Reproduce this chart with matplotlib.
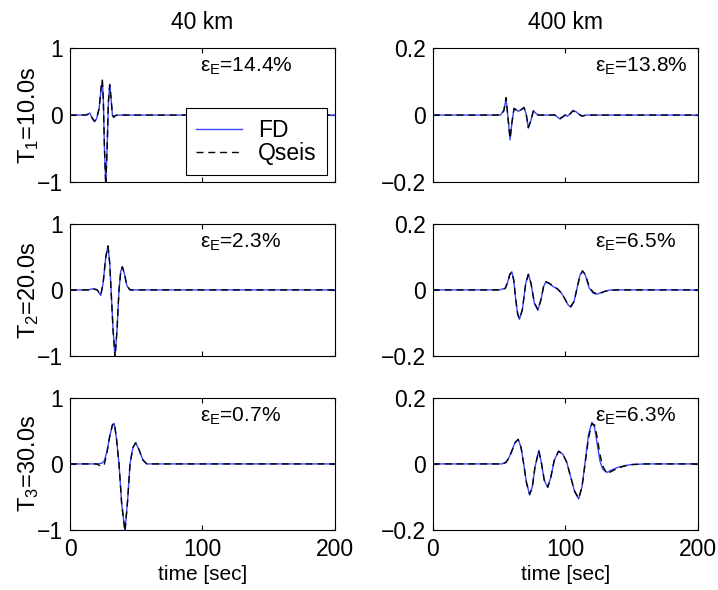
import numpy as np
import matplotlib
matplotlib.use("Agg")
import matplotlib.pyplot as plt

plt.rcParams['font.family'] = ['Liberation Sans', 'DejaVu Sans']
plt.rcParams['mathtext.fontset'] = 'custom'
plt.rcParams['mathtext.rm'] = 'Liberation Sans'
plt.rcParams['mathtext.it'] = 'Liberation Sans:italic'

# ---- data (time in sec, amplitude) ----
col_titles = ['40 km', '400 km']
row_labels = ['T$_1$=10.0s', 'T$_2$=20.0s', 'T$_3$=30.0s']
errors = [['14.4%', '13.8%'], ['2.3%', '6.5%'], ['0.7%', '6.3%']]

# 40 km, T1
t_40_1 = [0, 12, 15, 17, 18.5, 20, 22, 23.5, 24.4, 25.2, 26, 27, 28, 29, 30, 31, 32, 33, 34, 36, 200]
fd_40_1 = [0, 0, 0.03, -0.06, -0.1, -0.06, 0.1, 0.4, 0.52, 0.2, -0.5, -1.05, -0.5, 0.2, 0.46, 0.25, 0.0, -0.04, -0.01, 0, 0]
qs_40_1 = [0, 0, 0.02, -0.05, -0.09, -0.06, 0.1, 0.42, 0.52, 0.2, -0.5, -1.05, -0.5, 0.2, 0.45, 0.25, 0.0, -0.03, -0.01, 0, 0]
# 40 km, T2
t_40_2 = [0, 14, 17.4, 20.5, 23.2, 25, 27, 28.7, 30, 31, 32.5, 34, 35.5, 37, 38.3, 39.5, 41, 43, 45.3, 200]
fd_40_2 = [0, 0, 0.02, 0.005, -0.085, 0.1, 0.5, 0.67, 0.4, 0.0, -0.6, -1.02, -0.6, 0.0, 0.28, 0.35, 0.25, 0.06, 0, 0]
qs_40_2 = [0, 0, 0.015, 0.0, -0.08, 0.1, 0.5, 0.66, 0.4, 0.0, -0.6, -1.02, -0.6, 0.0, 0.28, 0.35, 0.25, 0.06, 0, 0]
# 40 km, T3
t_40_3 = [0, 20, 24, 26, 28, 30, 32, 33.4, 35, 37, 39, 41.5, 43.5, 45.3, 47.5, 49.6, 52, 55, 58, 200]
fd_40_3 = [0, 0, 0.01, 0.05, 0.2, 0.42, 0.58, 0.61, 0.4, 0.0, -0.6, -1.02, -0.55, 0.0, 0.25, 0.32, 0.22, 0.06, 0, 0]
qs_40_3 = [0, 0, -0.04, 0.0, 0.18, 0.42, 0.59, 0.62, 0.4, 0.0, -0.6, -1.02, -0.55, 0.0, 0.25, 0.32, 0.22, 0.06, 0, 0]
# 400 km, T1
t_400_1 = [0, 51, 53.5, 55.2, 56.7, 58.2, 59.7, 61.2, 64.5, 68.8, 70.5, 72, 74, 75.8, 77.5, 79.4, 92, 96, 98, 99.8,
           101.5, 103.5, 105.6, 108, 110, 112.4, 116, 200]
fd_400_1 = [0, 0, 0.015, 0.048, -0.01, -0.074, -0.02, 0.021, 0.011, 0.023, 0.0, -0.039, -0.015, 0.013, 0.006, 0, 0,
            -0.012, -0.006, 0.001, -0.004, 0.004, 0.014, 0.01, 0.003, -0.003, 0, 0]
qs_400_1 = [0, 0, 0.012, 0.052, -0.01, -0.07, -0.02, 0.019, 0.01, 0.022, 0.0, -0.037, -0.015, 0.012, 0.005, 0, 0,
            -0.01, -0.005, 0.0, -0.004, 0.003, 0.012, 0.009, 0.003, -0.003, 0, 0]
# 400 km, T2
t_400_2 = [0, 50, 54.5, 56.5, 58, 59.5, 61, 62.5, 64, 65.3, 67.5, 70, 72, 74, 76.5, 79.2, 81.5, 83.5, 85.3, 88, 90.8,
           94, 97.1, 100, 102, 104.1, 106.5, 109, 111, 112.9, 115, 118, 121, 123.8, 127, 130, 134, 140, 200]
fd_400_2 = [0, 0, 0.005, 0.025, 0.048, 0.055, 0.03, -0.03, -0.075, -0.089, -0.06, 0.02, 0.048, 0.02, -0.04, -0.061,
            -0.03, 0.01, 0.025, 0.018, 0.01, 0.003, -0.01, -0.03, -0.045, -0.052, -0.035, 0.01, 0.045, 0.058, 0.045,
            0.005, -0.01, -0.013, -0.008, -0.004, 0.0, 0.0, 0]
qs_400_2 = [0, 0, 0.004, 0.023, 0.046, 0.054, 0.03, -0.03, -0.073, -0.087, -0.06, 0.018, 0.046, 0.02, -0.038, -0.06,
            -0.03, 0.01, 0.024, 0.02, 0.012, 0.003, -0.01, -0.03, -0.046, -0.05, -0.035, 0.008, 0.043, 0.057, 0.047,
            0.01, -0.007, -0.012, -0.009, -0.004, -0.001, 0.0, 0]
# 400 km, T3
t_400_3 = [0, 52, 55, 57.5, 60, 62, 64.3, 66.5, 68.5, 70.5, 73, 75, 77, 79.9, 82, 84, 86.7, 89, 91.5, 94.8,
           98, 101, 104, 107, 110, 112.5, 115, 117.5, 120, 122, 124, 126, 128, 131.3, 135, 140, 145, 150, 160, 200]
fd_400_3 = [0, 0, 0.005, 0.02, 0.045, 0.065, 0.075, 0.05, 0.0, -0.055, -0.094, -0.07, -0.01, 0.041, 0.0, -0.05,
            -0.071, -0.04, 0.01, 0.039, 0.03, 0.005, -0.04, -0.085, -0.106, -0.07, 0.01, 0.09, 0.126, 0.11, 0.06,
            0.01, -0.015, -0.026, -0.018, -0.01, -0.005, -0.002, 0, 0]
qs_400_3 = [0, 0, 0.004, 0.018, 0.043, 0.064, 0.074, 0.05, 0.0, -0.055, -0.092, -0.07, -0.01, 0.04, 0.0, -0.048,
            -0.07, -0.04, 0.01, 0.038, 0.03, 0.005, -0.04, -0.083, -0.104, -0.07, 0.005, 0.08, 0.122, 0.118, 0.08,
            0.03, -0.005, -0.03, -0.022, -0.012, -0.006, -0.002, 0, 0]

panels = [[(t_40_1, fd_40_1, qs_40_1), (t_400_1, fd_400_1, qs_400_1)],
          [(t_40_2, fd_40_2, qs_40_2), (t_400_2, fd_400_2, qs_400_2)],
          [(t_40_3, fd_40_3, qs_40_3), (t_400_3, fd_400_3, qs_400_3)]]

ylims = [1.0, 0.2]
yticks = [[-1, 0, 1], [-0.2, 0, 0.2]]
yticklabels = [['\u22121', '0', '1'], ['\u22120.2', '0', '0.2']]

fig = plt.figure(figsize=(7.18, 5.9), dpi=100)

lefts = [0.0975, 0.603]
width = 0.369
bottoms = [0.6915, 0.3966, 0.1017]
heights = [0.227, 0.224, 0.224]
fs = 16.5
fs_err = 15

for r in range(3):
    for c in range(2):
        ax = fig.add_axes([lefts[c], bottoms[r], width, heights[r]])
        t, fd, qs = panels[r][c]
        l1, = ax.plot(t, fd, color='#3a46ff', lw=1.0, label='FD')
        l2, = ax.plot(t, qs, color='black', lw=1.0, ls=(0, (5, 3.5)), label='Qseis')
        ax.set_xlim(0, 200)
        ax.set_ylim(-ylims[c], ylims[c])
        ax.set_xticks([0, 100, 200])
        ax.set_yticks(yticks[c])
        ax.set_yticklabels(yticklabels[c])
        ax.tick_params(direction='in', length=3.5, width=0.8, top=True, right=True,
                       labelsize=fs)
        ax.tick_params(axis='x', pad=6)
        ax.tick_params(axis='y', pad=5)
        if r < 2:
            ax.set_xticklabels([])
        else:
            ax.set_xlabel('time [sec]', fontsize=15, labelpad=3)
        for s in ax.spines.values():
            s.set_linewidth(0.8)
        if r == 0:
            ax.set_title(col_titles[c], fontsize=fs, pad=13.5)
        if c == 0:
            ax.set_ylabel(row_labels[r], fontsize=17, labelpad=-3)
        tx = 0.49 if c == 0 else 0.61
        ax.text(tx, 0.86, '\u03b5$_{\\mathrm{E}}$=' + errors[r][c], transform=ax.transAxes,
                fontsize=fs_err, ha='left', va='center')
        if r == 0 and c == 0:
            leg = ax.legend(handles=[l1, l2], loc='lower right', bbox_to_anchor=(0.97, 0.052),
                            fontsize=fs, handlelength=2.0, fancybox=False, framealpha=1,
                            edgecolor='black', borderpad=0.45, labelspacing=0.0, handletextpad=0.7,
                            borderaxespad=0)
            leg.get_frame().set_linewidth(0.8)

fig.savefig('out.png', dpi=100)
